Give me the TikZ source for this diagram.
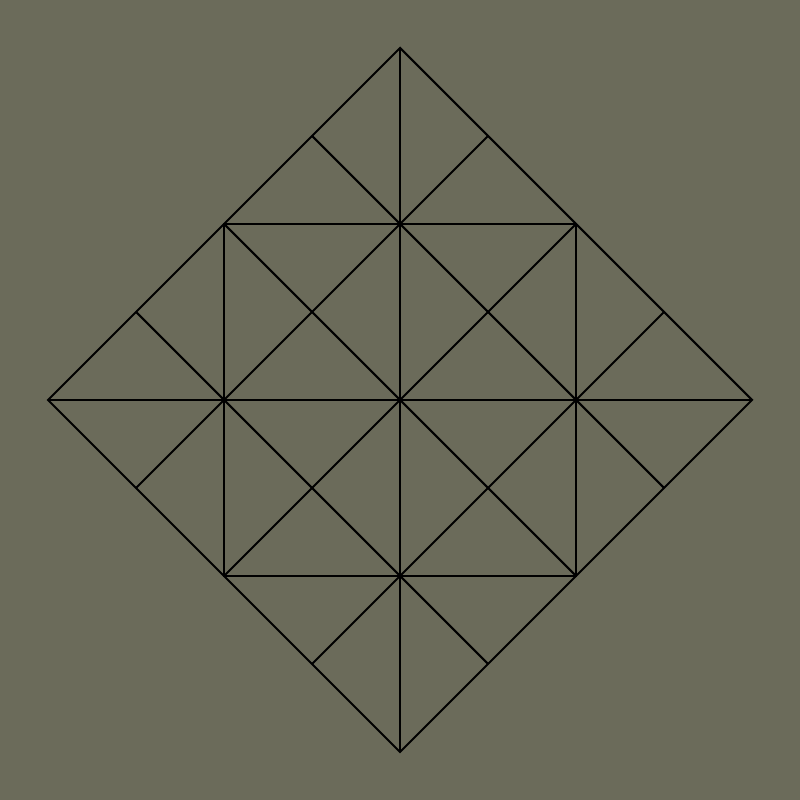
\documentclass[tikz,border=0pt]{standalone}
\usepackage{xcolor}
\usetikzlibrary{calc}
\definecolor{olivebg}{RGB}{107,107,90}

\begin{document}
\begin{tikzpicture}[x = 0.01cm, y = 0.01cm, line width = 0.6pt, line join = miter]
      \fill [olivebg] (0, 0) rectangle (800, 800);
      \useasboundingbox (0, 0) rectangle (800, 800);

      \coordinate (top) at (400, 752);
      \coordinate (right) at (752, 400);
      \coordinate (bottom) at (400, 48);
      \coordinate (left) at (48, 400);
      \coordinate (center) at (400, 400);

      % corners of the inner square (midpoints of the outer edges)
      \coordinate (tl) at ($(top)!0.5!(left)$);
      \coordinate (tr) at ($(top)!0.5!(right)$);
      \coordinate (br) at ($(bottom)!0.5!(right)$);
      \coordinate (bl) at ($(bottom)!0.5!(left)$);

      % quarter points on the outer edges
      \coordinate (tl1) at ($(top)!0.25!(left)$);
      \coordinate (tl3) at ($(top)!0.75!(left)$);
      \coordinate (tr1) at ($(top)!0.25!(right)$);
      \coordinate (tr3) at ($(top)!0.75!(right)$);
      \coordinate (bl1) at ($(bottom)!0.25!(left)$);
      \coordinate (bl3) at ($(bottom)!0.75!(left)$);
      \coordinate (br1) at ($(bottom)!0.25!(right)$);
      \coordinate (br3) at ($(bottom)!0.75!(right)$);

      \draw (top) -- (right) -- (bottom) -- (left) -- cycle;
      \draw (tl) -- (tr) -- (br) -- (bl) -- cycle;
      \draw (top) -- (bottom);
      \draw (left) -- (right);
      \draw (tl) -- (br);
      \draw (tr) -- (bl);
      \draw (tl1) -- (br3);
      \draw (tr1) -- (bl3);
      \draw (tl3) -- (br1);
      \draw (tr3) -- (bl1);
    \end{tikzpicture}
\end{document}
